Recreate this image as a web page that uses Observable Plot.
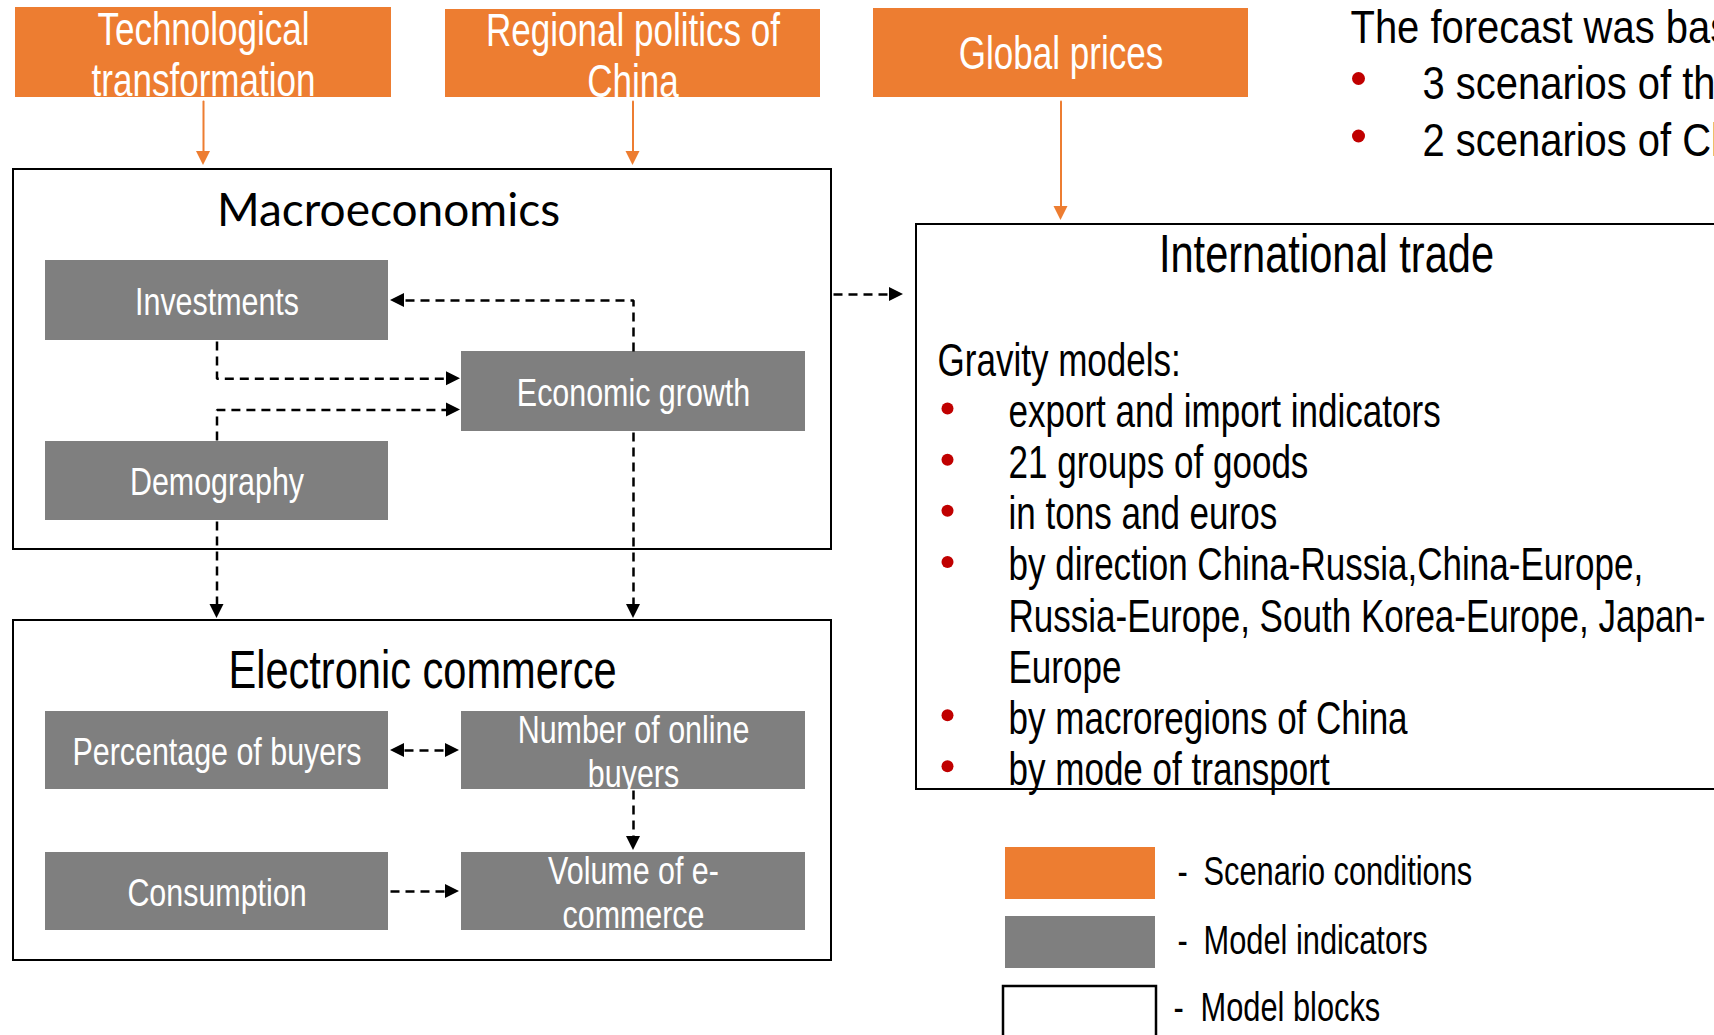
<!DOCTYPE html>
<html>
<head>
<meta charset="utf-8">
<script src="https://cdn.jsdelivr.net/npm/d3@7"></script>
<script src="https://cdn.jsdelivr.net/npm/@observablehq/plot@0.6"></script>
<style>
  html, body { margin: 0; padding: 0; background: #fff; overflow: hidden; }
  #chart svg { display: block; overflow: hidden; }
</style>
</head>
<body>
<div id="chart"></div>
<script>
// ================= DATA =================
const scenarioConditions = ["Technological transformation", "Regional politics of China", "Global prices"];
const scenarioLabels = ["Technological\ntransformation", "Regional politics of\nChina", "Global prices"];
const modelBlocks = ["Macroeconomics", "Electronic commerce", "International trade"];
const macroIndicators = ["Investments", "Economic growth", "Demography"];
const ecommerceIndicators = ["Percentage of buyers", "Number of online buyers", "Consumption", "Volume of e-commerce"];
const ecommerceLabels = ["Percentage of buyers", "Number of online\nbuyers", "Consumption", "Volume of e-\ncommerce"];
const scenarioLinks = [
  ["Technological transformation", "Macroeconomics"],
  ["Regional politics of China", "Macroeconomics"],
  ["Global prices", "International trade"]
];
const modelLinks = [
  ["Economic growth", "Investments", "one"],
  ["Investments", "Economic growth", "one"],
  ["Demography", "Economic growth", "one"],
  ["Demography", "Electronic commerce", "one"],
  ["Economic growth", "Electronic commerce", "one"],
  ["Macroeconomics", "International trade", "one"],
  ["Percentage of buyers", "Number of online buyers", "both"],
  ["Number of online buyers", "Volume of e-commerce", "one"],
  ["Consumption", "Volume of e-commerce", "one"]
];
const tradeHeading = "Gravity models:";
const tradeItems = [
  "export and import indicators",
  "21 groups of goods",
  "in tons and euros",
  "by direction China-Russia,China-Europe,\nRussia-Europe, South Korea-Europe, Japan-\nEurope",
  "by macroregions of China",
  "by mode of transport"
];
const forecastIntro = "The forecast was based on:";
const forecastItems = ["3 scenarios of the world economy development", "2 scenarios of China's regional policy"];
const legendItems = ["Scenario conditions", "Model indicators", "Model blocks"];

// ================= LAYOUT / STYLE =================
const W = 1714, H = 1035;
const FONT = "'Liberation Sans', Arial, Helvetica, sans-serif";
const TITLE_FONT = "Lato, 'Open Sans', sans-serif";
const ORANGE = "#ED7D31", GREY = "#7F7F7F", RED = "#C00000";

const boxes = {
  "Technological transformation": [15, 391, 7, 97],
  "Regional politics of China": [445, 820, 9, 97],
  "Global prices": [873, 1248, 8, 97],
  "Macroeconomics": [13, 831, 169, 549],
  "Electronic commerce": [13, 831, 620, 960],
  "International trade": [916, 1760, 224, 789],
  "Investments": [45, 388, 260, 340],
  "Economic growth": [461, 805, 351, 431],
  "Demography": [45, 388, 441, 520],
  "Percentage of buyers": [45, 388, 711, 789],
  "Number of online buyers": [461, 805, 711, 789],
  "Consumption": [45, 388, 852, 930],
  "Volume of e-commerce": [461, 805, 852, 930]
};
const titleAt = {"Macroeconomics": [388, 211], "Electronic commerce": [422, 670], "International trade": [1326, 254]};
const B = k => { const [x1, x2, y1, y2] = boxes[k]; return {x1, x2, y1, y2, cx: (x1 + x2) / 2, cy: (y1 + y2) / 2}; };

function route(from, to) {
  const a = B(from), b = B(to);
  switch (from + ">" + to) {
    case "Economic growth>Investments": return [[a.cx, a.y1], [a.cx, b.cy], [b.x2 + 2, b.cy]];
    case "Investments>Economic growth": { const y = b.y1 + 0.34 * (b.y2 - b.y1); return [[a.cx, a.y2 + 1], [a.cx, y], [b.x1 - 1, y]]; }
    case "Demography>Economic growth": { const y = b.y1 + 0.73 * (b.y2 - b.y1); return [[a.cx, a.y1 - 1], [a.cx, y], [b.x1 - 1, y]]; }
    case "Macroeconomics>International trade": return [[a.x2 + 2, 294], [b.x1 - 13, 294]];
  }
  if (a.y2 <= b.y1) return [[a.cx, a.y2 + 1], [a.cx, b.y1 - 2]];
  return [[a.x2 + 2, a.cy], [b.x1 - 2, a.cy]];
}

const dashPts = [], blackH = [], blackV = [], orangePts = [], orangeH = [], orangeV = [];
function head(tip, prev, len, half, id, hList, vList) {
  const dx = Math.sign(tip[0] - prev[0]), dy = Math.sign(tip[1] - prev[1]);
  const base = [tip[0] - dx * len, tip[1] - dy * len];
  if (dx) hList.push({id, x: base[0], y1: tip[1] - half, y2: tip[1] + half}, {id, x: tip[0], y1: tip[1], y2: tip[1]});
  else vList.push({id, y: base[1], x1: tip[0] - half, x2: tip[0] + half}, {id, y: tip[1], x1: tip[0], x2: tip[0]});
  return base;
}
modelLinks.forEach(([f, t, mode], i) => {
  const pts = route(f, t).map(p => p.slice());
  const n = pts.length;
  pts[n - 1] = head(pts[n - 1], pts[n - 2], 14, 7, "e" + i, blackH, blackV);
  if (mode === "both") pts[0] = head(pts[0], pts[1], 14, 7, "s" + i, blackH, blackV);
  pts.forEach(([x, y]) => dashPts.push({id: i, x, y}));
});
scenarioLinks.forEach(([f, t], i) => {
  const a = B(f), b = B(t);
  const pts = [[a.cx, a.y2 + 4], [a.cx, b.y1 - 4]];
  pts[1] = head(pts[1], pts[0], 14, 7, "o" + i, orangeH, orangeV);
  pts.forEach(([x, y]) => orangePts.push({id: i, x, y}));
});

const rectOf = k => { const b = B(k); return {key: k, x1: b.x1, x2: b.x2, y1: b.y1, y2: b.y2}; };
const blockRects = modelBlocks.map(rectOf);
const scenarioRects = scenarioConditions.map(rectOf);
const indicatorRects = [...macroIndicators, ...ecommerceIndicators].map(rectOf);
const scenarioText = scenarioConditions.map((k, i) => ({x: B(k).cx, y: B(k).cy + (scenarioLabels[i].includes("\n") ? 2 : 0), label: scenarioLabels[i]}));
const indicatorLabels = [...macroIndicators, ...ecommerceLabels];
const indicatorText = [...macroIndicators, ...ecommerceIndicators].map((k, i) => ({x: B(k).cx, y: B(k).cy, label: indicatorLabels[i]}));
const titleText = modelBlocks.map(k => ({x: titleAt[k][0], y: titleAt[k][1], label: k}));

// trade list: one datum per printed line
const ROW0 = 412.1, ROWH = 51.1;
const tradeLines = [], tradeBullets = [];
let row = 0;
tradeItems.forEach(item => {
  item.split("\n").forEach((line, j) => {
    const y = ROW0 + ROWH * row;
    tradeLines.push({x: 1008, y, label: line});
    if (j === 0) tradeBullets.push({x: 947, y: y - 4});
    row++;
  });
});
const forecastLines = forecastItems.map((t, i) => ({x: 1422, y: 83 + 57.5 * i, label: t}));
const forecastBullets = forecastItems.map((t, i) => ({x: 1358, y: 78 + 57.5 * i}));

const legendY = [872, 941, 1008];
const legendRects = [
  {x1: 1005, x2: 1155, y1: 847, y2: 899, fill: ORANGE},
  {x1: 1005, x2: 1155, y1: 916, y2: 968, fill: GREY}
];
const legendFrame = [{x1: 1003, x2: 1156, y1: 986, y2: 1050}];
const legendDash = legendItems.map((t, i) => ({x: i === 2 ? 1173 : 1177, y: legendY[i], label: "-"}));
const legendText = legendItems.map((t, i) => ({x: i === 2 ? 1200 : 1203, y: legendY[i], label: t}));

// ================= PLOT =================
// the slide text is horizontally squeezed: "sx:<factor>" tags the marks to squeeze
const narrow = {fontFamily: FONT, ariaDescription: "sx:0.77"};
const wider = {fontFamily: FONT, ariaDescription: "sx:0.85"};
const plot = Plot.plot({
  width: W, height: H, margin: 0,
  x: {domain: [0, W], range: [0, W], axis: null},
  y: {domain: [0, H], range: [0, H], axis: null},
  style: {background: "white", overflow: "hidden"},
  marks: [
    Plot.rect(blockRects, {x1: "x1", x2: "x2", y1: "y1", y2: "y2", fill: "white", stroke: "black", strokeWidth: 2}),
    Plot.rect(scenarioRects, {x1: "x1", x2: "x2", y1: "y1", y2: "y2", fill: ORANGE}),
    Plot.rect(indicatorRects, {x1: "x1", x2: "x2", y1: "y1", y2: "y2", fill: GREY}),
    Plot.line(dashPts, {x: "x", y: "y", z: "id", stroke: "black", strokeWidth: 2.5, strokeDasharray: "9,6", strokeLinecap: "butt", strokeLinejoin: "miter"}),
    Plot.areaY(blackH, {x: "x", y1: "y1", y2: "y2", z: "id", fill: "black"}),
    Plot.areaX(blackV, {y: "y", x1: "x1", x2: "x2", z: "id", fill: "black"}),
    Plot.line(orangePts, {x: "x", y: "y", z: "id", stroke: ORANGE, strokeWidth: 2}),
    Plot.areaY(orangeH, {x: "x", y1: "y1", y2: "y2", z: "id", fill: ORANGE}),
    Plot.areaX(orangeV, {y: "y", x1: "x1", x2: "x2", z: "id", fill: ORANGE}),
    Plot.text(scenarioText, {x: "x", y: "y", text: "label", fill: "white", fontSize: 45.5, lineHeight: 1.11, ...narrow}),
    Plot.text(indicatorText, {x: "x", y: "y", text: "label", fill: "white", fontSize: 39.5, lineHeight: 1.12, ...narrow}),
    Plot.text(titleText.filter(d => d.label !== "Macroeconomics"), {x: "x", y: "y", text: "label", fill: "black", fontSize: 54, ...narrow}),
    Plot.text(titleText.filter(d => d.label === "Macroeconomics"), {x: "x", y: "y", text: "label", fill: "black", fontSize: 46, fontFamily: TITLE_FONT}),
    Plot.text([{x: 937, y: 360.7, label: tradeHeading}], {x: "x", y: "y", text: "label", fill: "black", fontSize: 45.5, textAnchor: "start", ...narrow}),
    Plot.text(tradeLines, {x: "x", y: "y", text: "label", fill: "black", fontSize: 45.5, textAnchor: "start", ...narrow}),
    Plot.dot(tradeBullets, {x: "x", y: "y", r: 6, fill: RED}),
    Plot.text([{x: 1350, y: 27, label: forecastIntro}], {x: "x", y: "y", text: "label", fill: "black", fontSize: 47, textAnchor: "start", ...wider}),
    Plot.text(forecastLines, {x: "x", y: "y", text: "label", fill: "black", fontSize: 47, textAnchor: "start", ...wider}),
    Plot.dot(forecastBullets, {x: "x", y: "y", r: 6.5, fill: RED}),
    Plot.rect(legendRects, {x1: "x1", x2: "x2", y1: "y1", y2: "y2", fill: d => d.fill}),
    Plot.rect(legendFrame, {x1: "x1", x2: "x2", y1: "y1", y2: "y2", fill: "white", stroke: "black", strokeWidth: 2.5}),
    Plot.text(legendDash, {x: "x", y: "y", text: "label", fill: "black", fontSize: 40, textAnchor: "start", ...narrow}),
    Plot.text(legendText, {x: "x", y: "y", text: "label", fill: "black", fontSize: 40, textAnchor: "start", ...narrow})
  ]
});
plot.querySelectorAll('g[aria-description^="sx:"]').forEach(g => {
  const s = +g.getAttribute("aria-description").slice(3);
  g.querySelectorAll("text").forEach(t => {
    t.setAttribute("transform", (t.getAttribute("transform") || "") + ` scale(${s},1)`);
  });
});
document.getElementById("chart").appendChild(plot);
</script>
</body>
</html>
